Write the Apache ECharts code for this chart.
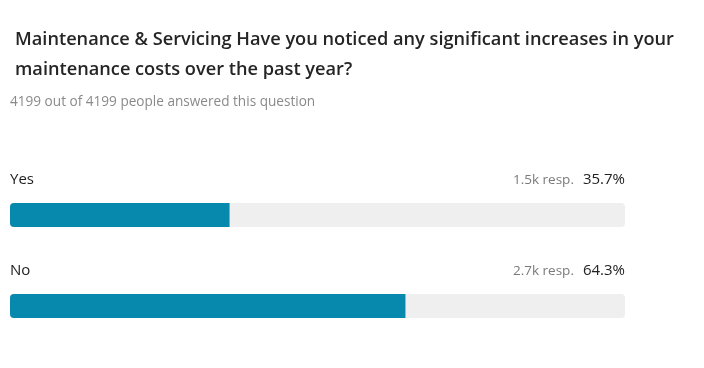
<!DOCTYPE html>
<html><head><meta charset="utf-8">
<script src="https://cdn.jsdelivr.net/npm/echarts@6/dist/echarts.min.js"></script>
<style>html,body{margin:0;padding:0;background:#fff}#c{width:704px;height:368px}</style>
</head><body><div id="c"></div>
<script>
const titleText = 'Maintenance & Servicing Have you noticed any significant increases in your\nmaintenance costs over the past year?';
const subText = '4199 out of 4199 people answered this question';
const categories = ['Yes', 'No'];
const percents = [35.7, 64.3];
const respLabels = ['1.5k', '2.7k'];
const FONT = '"Open Sans", sans-serif';

const chart = echarts.init(document.getElementById('c'));
chart.setOption({
  animation: false,
  title: [
    {text: titleText, left: 10, top: 20, textStyle: {fontFamily: FONT, fontSize: 18.2, fontWeight: 600, color: '#252525', lineHeight: 30}},
    {text: subText, left: 5, top: 90, textStyle: {fontFamily: FONT, fontSize: 13.6, fontWeight: 400, color: '#8a8a8a'}}
  ],
  grid: {left: 10, right: 79, top: 169.5, bottom: 16.5},
  xAxis: {type: 'value', min: 0, max: 100, show: false},
  yAxis: {type: 'category', data: categories, inverse: true, show: false},
  series: [
    {
      type: 'bar', barWidth: 24, barGap: '-100%', silent: true,
      data: categories.map(() => 100),
      itemStyle: {color: '#efefef', borderRadius: 4},
      label: {
        show: true, position: [0, -23], width: 615, verticalAlign: 'middle',
        formatter: p => '{n|' + categories[p.dataIndex] + '}{r|' + respLabels[p.dataIndex] + ' resp.}{p|' + percents[p.dataIndex].toFixed(1) + '%}',
        rich: {
          n: {align: 'left', fontFamily: FONT, fontSize: 15, color: '#222'},
          r: {align: 'right', fontFamily: FONT, fontSize: 13.5, color: '#7a7a7a', padding: [1, 9, 0, 0]},
          p: {align: 'right', fontFamily: FONT, fontSize: 15, color: '#222'}
        }
      },
      z: 1
    },
    {
      type: 'bar', barWidth: 24, silent: true,
      data: percents,
      itemStyle: {color: '#0789ae', borderRadius: [4, 0, 0, 4]},
      z: 2
    }
  ]
});
</script></body></html>
